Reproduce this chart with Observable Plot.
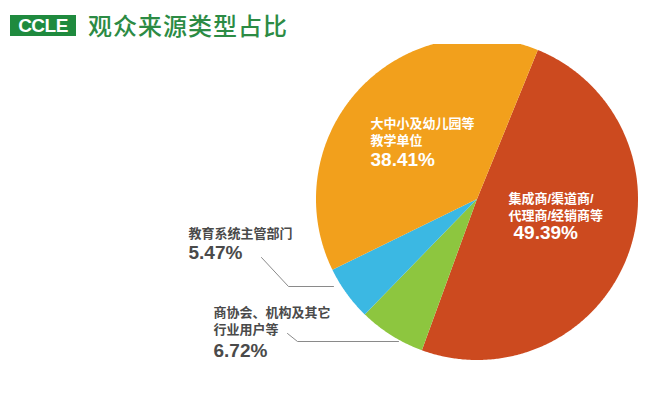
<!DOCTYPE html>
<html><head><meta charset="utf-8">
<script src="https://cdn.jsdelivr.net/npm/d3@7"></script>
<script src="https://cdn.jsdelivr.net/npm/@observablehq/plot@0.6"></script>
<style>
body{margin:0;background:#fff;width:645px;height:396px;overflow:hidden;}
#header{position:relative;height:44px;}
#logo{position:absolute;left:10px;top:15px;width:66px;height:21px;background:#1F8A3E;color:#fff;
  font:bold 19px/21px "Liberation Sans",Arial,sans-serif;letter-spacing:-0.5px;text-align:center;}
#title{position:absolute;left:88px;top:13px;font:500 24px/24px "Noto Sans CJK SC",sans-serif;color:#2C8B44;letter-spacing:1px;}
#chart svg{display:block;}
</style></head><body>
<div id="header"><div id="logo">CCLE</div><div id="title">观众来源类型占比</div></div>
<div id="chart"></div>
<script>
// ---- data ----
const categories = ["集成商/渠道商/代理商/经销商等", "商协会、机构及其它行业用户等", "教育系统主管部门", "大中小及幼儿园等教学单位"];
const values = [49.39, 6.72, 5.47, 38.41];
const labelLines = [["集成商/渠道商/", "代理商/经销商等"], ["商协会、机构及其它", "行业用户等"], ["教育系统主管部门"], ["大中小及幼儿园等", "教学单位"]];
const colors = ["#CC4A1F", "#8DC63F", "#3BB8E3", "#F2A01C"];

// ---- layout ----
const W = 645, H = 352, headerH = 44;
const cx = 476.5, cyPage = 198.5, r = 161;
const startDeg = 22.2;
const ux = px => (px - cx) / r;
const uy = py => (cyPage - py) / r;
// label layout per category (page px): x, baseline of last label line, percent position
const labelLayout = [
  {x: 508, y: 219, px: 513, py: 238, fill: "#ffffff"},
  {x: 213, y: 333, px: 213, py: 356, fill: "#4a4a4a"},
  {x: 188, y: 237, px: 188, py: 258, fill: "#4a4a4a"},
  {x: 370, y: 144, px: 370, py: 165, fill: "#ffffff"}
];
const leaders = [
  {cat: 2, pts: [[261, 257], [288, 286], [333, 286]]},
  {cat: 1, pts: [[287, 333], [297, 341], [398, 341]]}
];

// ---- build slices ----
const s0 = startDeg * Math.PI / 180;
const arcs = d3.pie().sort(null).startAngle(s0).endAngle(s0 + 2 * Math.PI)(values);
const slicePts = [];
arcs.forEach((a, i) => {
  const key = categories[i];
  slicePts.push({key, x: 0, y: 0});
  const n = Math.max(2, Math.ceil((a.endAngle - a.startAngle) / (0.5 * Math.PI / 180)));
  for (let k = 0; k <= n; k++) {
    const t = a.startAngle + (a.endAngle - a.startAngle) * k / n;
    slicePts.push({key, x: Math.sin(t), y: Math.cos(t)});
  }
  slicePts.push({key, x: 0, y: 0});
});

const textRows = [], pctRows = [];
categories.forEach((c, i) => {
  const L = labelLayout[i];
  textRows.push({text: labelLines[i].join("\n"), x: ux(L.x), y: uy(L.y), fill: L.fill});
  pctRows.push({text: values[i].toFixed(2) + "%", x: ux(L.px), y: uy(L.py), fill: L.fill});
});
const leaderRows = [];
leaders.forEach((l, i) => l.pts.forEach(p => leaderRows.push({id: i, x: ux(p[0]), y: uy(p[1])})));

const cy = cyPage - headerH;
const chart = Plot.plot({
  width: W, height: H,
  margin: 0,
  x: {domain: [-cx / r, (W - cx) / r], range: [0, W], axis: null},
  y: {domain: [(cy - H) / r, cy / r], range: [H, 0], axis: null},
  color: {domain: categories, range: colors},
  style: {background: "transparent"},
  marks: [
    Plot.line(slicePts, {x: "x", y: "y", z: "key", fill: "key", stroke: "none", curve: "linear"}),
    Plot.line(leaderRows, {x: "x", y: "y", z: "id", stroke: "#8a8a8a", strokeWidth: 1}),
    Plot.text(textRows, {x: "x", y: "y", text: "text", fill: d => d.fill, textAnchor: "start", lineAnchor: "bottom",
      lineHeight: 17 / 13, fontSize: 13, fontWeight: "bold", fontFamily: "Liberation Sans, Noto Sans CJK SC, sans-serif"}),
    Plot.text(pctRows, {x: "x", y: "y", text: "text", fill: d => d.fill, textAnchor: "start", lineAnchor: "bottom",
      fontSize: 19, fontWeight: "bold", fontFamily: "Liberation Sans, Arial, sans-serif"})
  ]
});
document.getElementById("chart").appendChild(chart);
</script>
</body></html>
